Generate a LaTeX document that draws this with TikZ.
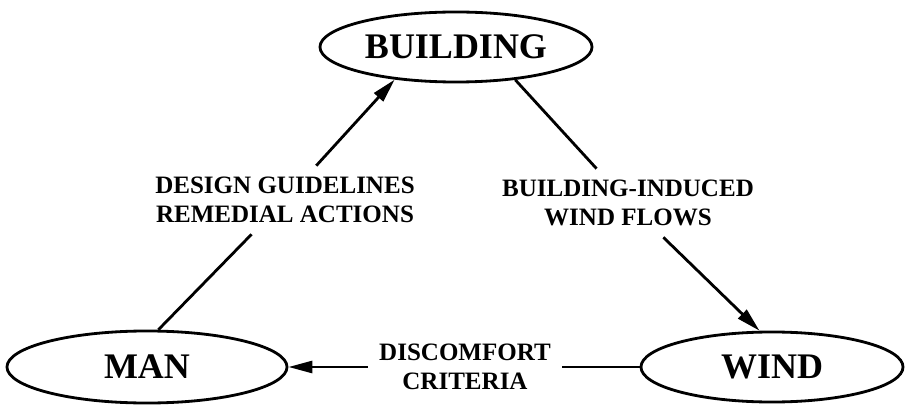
\documentclass[tikz,border=0pt]{standalone}
\usepackage{fontspec}
\setmainfont{Liberation Serif}
\usetikzlibrary{shapes.geometric,arrows.meta}

\begin{document}
\begin{tikzpicture}[x=0.025cm,y=-0.025cm,line width=2pt,
  blob/.style={draw,ellipse,inner sep=0pt,font=\fontsize{25.6}{30}\selectfont\bfseries},
  tag/.style={align=center,inner sep=0.25cm,font=\fontsize{17.8}{20.6}\selectfont\bfseries},
  >={Triangle[length=0.6cm,width=0.3cm]}]
%%Frame
\useasboundingbox (0,0) rectangle (905,406);
%%Ellipses
\node[blob,minimum width=6.8cm,minimum height=1.75cm] (building) at (456,47) {BUILDING};
\node[blob,minimum width=7cm,minimum height=1.8cm] (man) at (147,367) {MAN};
\node[blob,minimum width=6.55cm,minimum height=1.75cm] (wind) at (772,367) {WIND};
%%Labels
\node[tag] (design) at (285,200) {DESIGN GUIDELINES\\REMEDIAL ACTIONS};
\node[tag] (induced) at (628,203) {BUILDING-INDUCED\\WIND FLOWS};
\node[tag] (criteria) at (465,367) {DISCOMFORT\\CRITERIA};
%%Arrows
\draw (man.73) -- (design);
\draw[->] (design) -- (building.208);
\draw (building.331) -- (induced);
\draw[->] (induced) -- (wind.109);
\draw (wind.west) -- (criteria);
\draw[->] (criteria) -- (man.east);
\end{tikzpicture}
\end{document}
